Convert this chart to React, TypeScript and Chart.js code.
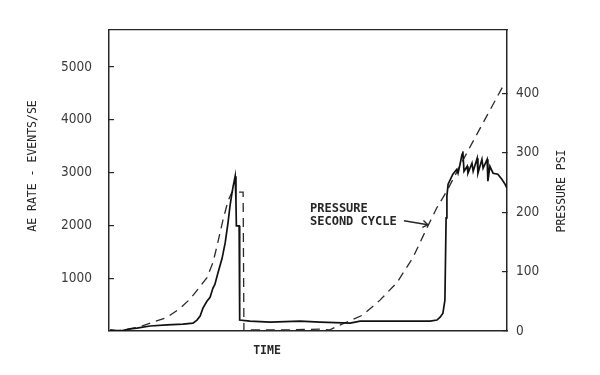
import React, { useEffect, useRef } from 'react';
import { Chart, registerables } from 'chart.js';

Chart.register(...registerables);

// AE rate (events/sec) versus time (arbitrary units 0..100)
const aeTime = [
  0.3, 2.8, 5.3, 7.0, 10.3, 14.6, 18.6, 21.1, 22.1, 22.9,
  23.6, 24.6, 25.4, 26.1, 26.6, 27.4, 28.4, 29.2, 29.9, 30.4,
  30.9, 31.2, 31.7, 31.9, 32.0, 32.7, 32.7, 32.9, 32.9, 35.4,
  40.5, 48.0, 53.0, 60.6, 63.1, 73.1, 80.7, 82.4, 83.2, 83.9,
  84.4, 84.7, 84.9, 85.2, 86.4, 87.4, 87.7, 88.2, 88.7, 88.9,
  89.2, 90.0, 90.2, 91.2, 91.5, 92.5, 92.7, 93.7, 94.0, 95.0,
  95.2, 95.7, 96.5, 97.7, 98.7, 99.5, 100,
];
const aeRate = [
  20, 0, 40, 55, 95, 115, 130, 150, 207, 282,
  432, 564, 639, 808, 883, 1109, 1372, 1673, 2049, 2368,
  2613, 2744, 2932, 2462, 1992, 1992, 1184, 1184, 207, 188,
  169, 188, 169, 150, 188, 188, 188, 207, 263, 338,
  583, 2143, 2556, 2782, 2970, 3064, 2989, 3158, 3346, 3402,
  3026, 3120, 2989, 3177, 3026, 3271, 2989, 3252, 3083, 3252,
  2838, 3120, 2989, 2970, 2876, 2782, 2707,
];

// Pressure (psi) versus time
const pressureTime = [
  0.8, 4.0, 7.8, 11.1, 14.6, 17.8, 20.4, 22.9, 24.6, 26.1,
  27.1, 28.6, 29.9, 30.9, 33.7, 33.9, 35.4, 45.0, 53.0, 55.5,
  58.0, 63.8, 68.1, 72.4, 76.4, 79.9, 82.4, 84.9, 89.9, 94.9,
  99.2,
];
const pressure = [
  0, 2, 7, 15, 23, 38, 54, 75, 90, 115,
  142, 186, 219, 234, 234, 0, 2, 2, 3, 2,
  10, 27, 52, 82, 124, 174, 208, 236, 300, 362,
  415,
];

const aeTicks = [1000, 2000, 3000, 4000, 5000];
const psiTicks = [0, 100, 200, 300, 400];

const leftTitle = 'AE RATE - EVENTS/SE';
const rightTitle = 'PRESSURE PSI';
const xTitle = 'TIME';
const noteLines = ['PRESSURE', 'SECOND CYCLE'];

const INK = '#262626';
const TICK_FONT = "'DejaVu Sans Condensed', 'DejaVu Sans', sans-serif";
const MONO = "'DejaVu Sans Mono', 'Liberation Mono', monospace";

const decor = {
  id: 'decor',
  beforeDraw(chart: any) {
    const ctx = chart.ctx;
    ctx.save();
    ctx.fillStyle = '#ffffff';
    ctx.fillRect(0, 0, chart.width, chart.height);
    ctx.restore();
  },
  afterDraw(chart: any) {
    const ctx = chart.ctx;
    const xs = chart.scales.x;
    const yp = chart.scales.yPsi;
    ctx.save();
    ctx.fillStyle = INK;
    ctx.strokeStyle = INK;
    ctx.font = `11.5px ${MONO}`;
    ctx.textAlign = 'center';
    ctx.textBaseline = 'middle';

    // left axis title
    ctx.save();
    ctx.translate(33, 166);
    ctx.rotate(-Math.PI / 2);
    ctx.fillText(leftTitle, 0, 0);
    ctx.restore();

    // right axis title
    ctx.save();
    ctx.translate(562, 191);
    ctx.rotate(-Math.PI / 2);
    ctx.fillText(rightTitle, 0, 0);
    ctx.restore();

    // x title
    ctx.font = `bold 11.5px ${MONO}`;
    ctx.fillText(xTitle, 267, 351);

    // annotation
    ctx.font = `bold 12px ${MONO}`;
    ctx.textAlign = 'left';
    ctx.textBaseline = 'alphabetic';
    const tx = xs.getPixelForValue(50.5);
    ctx.fillText(noteLines[0], tx, yp.getPixelForValue(200.8));
    ctx.fillText(noteLines[1], tx, yp.getPixelForValue(179));

    // arrow to the dashed curve
    const ax1 = xs.getPixelForValue(74.1);
    const ay1 = yp.getPixelForValue(185.8);
    const ax2 = xs.getPixelForValue(80.1);
    const ay2 = yp.getPixelForValue(179);
    ctx.lineWidth = 1.4;
    ctx.beginPath();
    ctx.moveTo(ax1, ay1);
    ctx.lineTo(ax2, ay2);
    ctx.stroke();
    const ang = Math.atan2(ay2 - ay1, ax2 - ax1);
    ctx.beginPath();
    ctx.moveTo(ax2 - 6 * Math.cos(ang - 0.6), ay2 - 6 * Math.sin(ang - 0.6));
    ctx.lineTo(ax2, ay2);
    ctx.lineTo(ax2 - 6 * Math.cos(ang + 0.6), ay2 - 6 * Math.sin(ang + 0.6));
    ctx.stroke();
    ctx.restore();
  },
};

export default function App() {
  const ref = useRef<HTMLCanvasElement | null>(null);

  useEffect(() => {
    if (!ref.current) return;
    const chart = new Chart(ref.current, {
      type: 'line',
      data: {
        datasets: [
          {
            label: 'AE rate',
            data: aeTime.map((t, i) => ({ x: t, y: aeRate[i] })),
            yAxisID: 'yAe',
            borderColor: '#111111',
            borderWidth: 1.7,
            pointRadius: 0,
            tension: 0,
          },
          {
            label: 'Pressure',
            data: pressureTime.map((t, i) => ({ x: t, y: pressure[i] })),
            yAxisID: 'yPsi',
            borderColor: '#2a2a2a',
            borderWidth: 1.3,
            borderDash: [9, 6],
            pointRadius: 0,
            tension: 0,
          },
        ],
      },
      options: {
        animation: false,
        responsive: false,
        devicePixelRatio: 1,
        layout: { padding: 0 },
        plugins: {
          legend: { display: false },
          tooltip: { enabled: false },
        },
        scales: {
          x: {
            type: 'linear',
            position: 'bottom',
            min: 0,
            max: 100,
            ticks: { display: false },
            grid: { display: false },
            border: { display: true, color: INK, width: 1.5 },
            afterFit: (s: any) => { s.height = 44; },
          },
          xTop: {
            type: 'linear',
            position: 'top',
            min: 0,
            max: 100,
            ticks: { display: false },
            grid: { display: false },
            border: { display: true, color: INK, width: 1.3 },
            afterFit: (s: any) => { s.height = 28; },
          },
          yAe: {
            type: 'linear',
            position: 'left',
            min: 0,
            max: 5700,
            afterBuildTicks: (s: any) => { s.ticks = aeTicks.map((v) => ({ value: v })); },
            ticks: {
              callback: (v: any) => String(v),
              color: '#3a3a3a',
              font: { family: TICK_FONT, size: 13.5 },
              padding: 22,
            },
            grid: { display: true, drawOnChartArea: false, drawTicks: true, tickLength: -5, color: INK, lineWidth: 1.2 },
            border: { display: true, color: INK, width: 1.5 },
            afterFit: (s: any) => { s.width = 109; },
          },
          yPsi: {
            type: 'linear',
            position: 'right',
            min: 0,
            max: 507,
            afterBuildTicks: (s: any) => { s.ticks = psiTicks.map((v) => ({ value: v })); },
            ticks: {
              callback: (v: any) => String(v),
              color: '#3a3a3a',
              font: { family: TICK_FONT, size: 13.5 },
              padding: 14,
            },
            grid: { display: true, drawOnChartArea: false, drawTicks: true, tickLength: -5, color: INK, lineWidth: 1.2 },
            border: { display: true, color: INK, width: 1.5 },
            afterFit: (s: any) => { s.width = 93; },
          },
        },
      } as any,
      plugins: [decor],
    });
    return () => chart.destroy();
  }, []);

  return (
    <div style={{ position: 'fixed', left: 0, top: 0, width: 600, height: 375 }}>
      <canvas ref={ref} width={600} height={375} style={{ width: 600, height: 375 }} />
    </div>
  );
}
